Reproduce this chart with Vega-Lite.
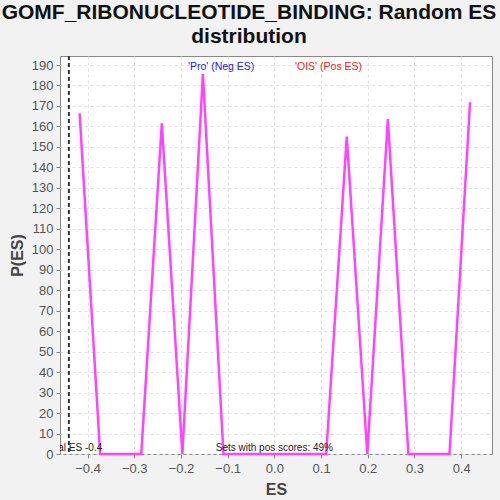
{
  "$schema": "https://vega.github.io/schema/vega-lite/v6.json",
  "width": 432,
  "height": 398,
  "autosize": {"type": "none"},
  "padding": {"left": 60, "top": 56, "right": 8, "bottom": 46},
  "background": "#f2f2f2",
  "title": {
    "text": ["GOMF_RIBONUCLEOTIDE_BINDING: Random ES", "distribution"],
    "font": "Liberation Sans",
    "fontSize": 21,
    "fontWeight": "bold",
    "color": "#111111",
    "anchor": "middle",
    "dx": -27,
    "offset": 8,
    "lineHeight": 24
  },
  "config": {
    "view": {"fill": "white", "stroke": "#888888", "strokeWidth": 1},
    "axisY": {
      "labelFont": "Liberation Sans",
      "labelFontSize": 13,
      "labelColor": "#555555",
      "labelPadding": 3,
      "labelOverlap": false,
      "titleFont": "Liberation Sans",
      "titleFontSize": 16,
      "titleFontWeight": "bold",
      "titleColor": "#444444",
      "titlePadding": 6,
      "domain": false,
      "tickColor": "#888888",
      "tickSize": 4,
      "grid": true,
      "gridColor": "#e0e0e0",
      "gridDash": [3, 3]
    }
  },
  "datasets": {
    "dist": [
      {"es": -0.417, "p": 166.4},
      {"es": -0.373, "p": 0},
      {"es": -0.329, "p": 0},
      {"es": -0.285, "p": 0},
      {"es": -0.241, "p": 161.5},
      {"es": -0.197, "p": 0},
      {"es": -0.153, "p": 185.6},
      {"es": -0.109, "p": 0},
      {"es": -0.065, "p": 0},
      {"es": -0.021, "p": 0},
      {"es": 0.023, "p": 0},
      {"es": 0.067, "p": 0},
      {"es": 0.111, "p": 0},
      {"es": 0.155, "p": 155.0},
      {"es": 0.199, "p": 0},
      {"es": 0.243, "p": 163.6},
      {"es": 0.287, "p": 0},
      {"es": 0.331, "p": 0},
      {"es": 0.375, "p": 0},
      {"es": 0.419, "p": 171.8}
    ],
    "real": [{"es": -0.44, "p": 0, "label": "Real ES -0.4"}],
    "notes": [
      {"es": -0.114, "p": 189, "label": "'Pro' (Neg ES)", "kind": "neg"},
      {"es": 0.116, "p": 189, "label": "'OIS' (Pos ES)", "kind": "pos"}
    ],
    "footer": [{"es": 0.0, "p": 0, "label": "Sets with pos scores: 49%"}]
  },
  "layer": [
    {
      "data": {"name": "dist"},
      "mark": {"type": "line", "color": "#ff44ff", "strokeWidth": 2.5},
      "encoding": {
        "x": {
          "field": "es",
          "type": "quantitative",
          "scale": {"domain": [-0.459, 0.466], "nice": false, "zero": false},
          "axis": {
            "title": "ES",
            "values": [-0.4, -0.3, -0.2, -0.1, 0, 0.1, 0.2, 0.3, 0.4],
            "format": ".1f",
            "labelFont": "Liberation Sans",
            "labelFontSize": 13,
            "labelColor": "#555555",
            "labelPadding": 4,
            "labelOverlap": false,
            "titleFont": "Liberation Sans",
            "titleFontSize": 16,
            "titleFontWeight": "bold",
            "titleColor": "#444444",
            "titlePadding": 6,
            "domain": false,
            "tickColor": "#888888",
            "tickSize": 4,
            "grid": true,
            "gridColor": "#e0e0e0",
            "gridDash": [3, 3]
          }
        },
        "y": {
          "field": "p",
          "type": "quantitative",
          "scale": {"domain": [0, 194.4], "nice": false},
          "axis": {
            "title": "P(ES)",
            "values": [0, 10, 20, 30, 40, 50, 60, 70, 80, 90, 100, 110, 120, 130, 140, 150, 160, 170, 180, 190]
          }
        }
      }
    },
    {
      "data": {"name": "real"},
      "mark": {"type": "rule", "color": "#333333", "strokeWidth": 2, "strokeDash": [4, 3]},
      "encoding": {"x": {"field": "es", "type": "quantitative"}}
    },
    {
      "data": {"name": "real"},
      "mark": {"type": "text", "clip": true, "font": "Liberation Sans", "fontSize": 10, "color": "#222222", "align": "center", "baseline": "alphabetic", "dx": 5, "dy": -3},
      "encoding": {
        "x": {"field": "es", "type": "quantitative"},
        "y": {
          "field": "p",
          "type": "quantitative",
          "axis": {
            "title": "P(ES)",
            "values": [0, 10, 20, 30, 40, 50, 60, 70, 80, 90, 100, 110, 120, 130, 140, 150, 160, 170, 180, 190]
          }
        },
        "text": {"field": "label"}
      }
    },
    {
      "data": {"name": "footer"},
      "mark": {"type": "text", "font": "Liberation Sans", "fontSize": 10, "color": "#222222", "align": "center", "baseline": "alphabetic", "dy": -3},
      "encoding": {
        "x": {"field": "es", "type": "quantitative"},
        "y": {
          "field": "p",
          "type": "quantitative",
          "axis": {
            "title": "P(ES)",
            "values": [0, 10, 20, 30, 40, 50, 60, 70, 80, 90, 100, 110, 120, 130, 140, 150, 160, 170, 180, 190]
          }
        },
        "text": {"field": "label"}
      }
    },
    {
      "data": {"name": "notes"},
      "mark": {"type": "text", "font": "Liberation Sans", "fontSize": 10.5, "align": "center", "baseline": "middle"},
      "encoding": {
        "x": {"field": "es", "type": "quantitative"},
        "y": {
          "field": "p",
          "type": "quantitative",
          "axis": {
            "title": "P(ES)",
            "values": [0, 10, 20, 30, 40, 50, 60, 70, 80, 90, 100, 110, 120, 130, 140, 150, 160, 170, 180, 190]
          }
        },
        "text": {"field": "label"},
        "color": {
          "field": "kind",
          "type": "nominal",
          "scale": {"domain": ["neg", "pos"], "range": ["#2222dd", "#ee2222"]},
          "legend": null
        }
      }
    }
  ]
}
